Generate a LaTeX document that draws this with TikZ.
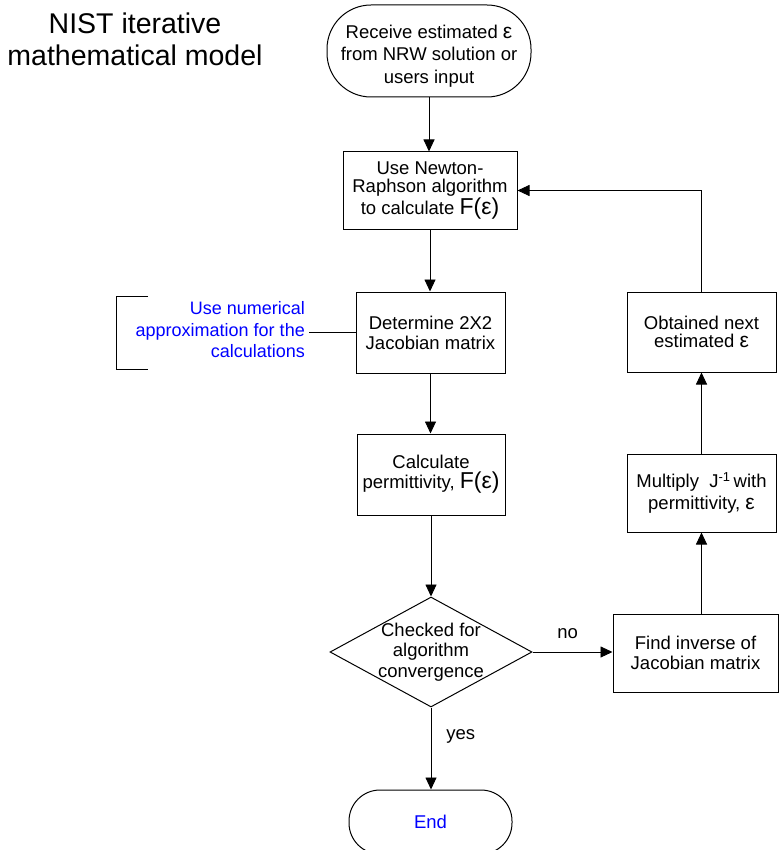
\documentclass[tikz,border=0pt]{standalone}
\usepackage{fontspec}
\setmainfont{Liberation Sans}
\usetikzlibrary{arrows.meta,shapes.geometric}
\definecolor{noteblue}{RGB}{0,0,255}
% epsilon and F(epsilon) set a little larger than the running text
\newcommand{\epsym}{{\fontsize{21}{21}\selectfont ε}}
\newcommand{\Fofeps}{{\fontsize{23}{23}\selectfont F(ε)}}

\begin{document}
\begin{tikzpicture}[x=1pt,y=-1pt,
  every node/.style={font=\fontsize{18.5}{21}\selectfont, inner sep=0pt},
  proc/.style={draw, line width=1pt, align=center},
  term/.style={draw, line width=1pt, align=center},
  flow/.style={line width=0.9pt, -{Triangle[length=12pt,width=11pt]}},
  link/.style={line width=0.9pt}]
\useasboundingbox (0,0) rectangle (779,850);

% title
\node[align=center, font=\fontsize{28.5}{32}\selectfont] (title) at (135,39.5)
  {NIST iterative\\mathematical model};

% main column
\node[term, minimum width=204pt, minimum height=92pt, rounded corners=44pt,
      font=\fontsize{18.5}{22.5}\selectfont] (start) at (429,51)
  {\rule{0pt}{23pt}Receive estimated \epsym\\from NRW solution or\\users input};
\node[proc, minimum width=174pt, minimum height=77pt,
      font=\fontsize{18.5}{18}\selectfont] (newton) at (430,190.5)
  {Use Newton-\\Raphson algorithm\\to calculate \Fofeps};
\node[proc, minimum width=149pt, minimum height=81pt,
      font=\fontsize{18.5}{20}\selectfont] (jacob) at (430.5,332.5)
  {Determine 2X2\\Jacobian matrix};
\node[proc, minimum width=148pt, minimum height=81pt,
      font=\fontsize{18.5}{20}\selectfont] (perm) at (431,474.5)
  {Calculate\\permittivity, \Fofeps};
\node[draw, line width=1pt, diamond, minimum width=202pt, minimum height=110pt]
  (check) at (431,652) {};
\node[align=center, font=\fontsize{18.5}{20.5}\selectfont] (checktext)
  at (check.center) {Checked for\\algorithm\\convergence};
\node[term, minimum width=163pt, minimum height=64pt, rounded corners=31pt]
  (end) at (430.5,822) {\textcolor{noteblue}{End}};

% return column
\node[proc, minimum width=165pt, minimum height=78pt,
      font=\fontsize{18.5}{20.5}\selectfont] (inverse) at (695.5,653)
  {Find inverse of\\Jacobian matrix};
\node[proc, minimum width=149pt, minimum height=78pt,
      font=\fontsize{18.5}{22}\selectfont] (multiply) at (701.5,493)
  {Multiply~~J\textsuperscript{-1}\,with\\permittivity, \epsym};
\node[proc, minimum width=149pt, minimum height=80pt,
      font=\fontsize{18.5}{18.5}\selectfont] (next) at (701.5,332)
  {Obtained next\\estimated \epsym};

% annotation
\node[align=right, text=noteblue, anchor=east,
      font=\fontsize{18}{21.5}\selectfont] (note) at (305,330)
  {Use numerical\\approximation for the\\calculations};
\draw[link] (148,296) -- (116,296) -- (116,369) -- (148,369);
\draw[link, shorten >=4pt] (jacob.west) -- (jacob.west -| note.east);

% connectors
\draw[flow] (start.south) -- (start.south |- newton.north);
\draw[flow] (newton.south) -- (newton.south |- jacob.north);
\draw[flow] (jacob.south) -- (jacob.south |- perm.north);
\draw[flow] (perm.south) -- (perm.south |- check.north);
\draw[flow] (check.east) -- (inverse.west |- check.east)
  node[pos=0.44, above=13pt] (no) {no};
\draw[flow] (check.south) -- (check.south |- end.north)
  node[pos=0.35, right=15pt] (yes) {yes};
\draw[flow] (inverse.north -| multiply.south) -- (multiply.south);
\draw[flow] (multiply.north) -- (next.south);
\draw[flow] (next.north) |- (newton.east);
\end{tikzpicture}
\end{document}
